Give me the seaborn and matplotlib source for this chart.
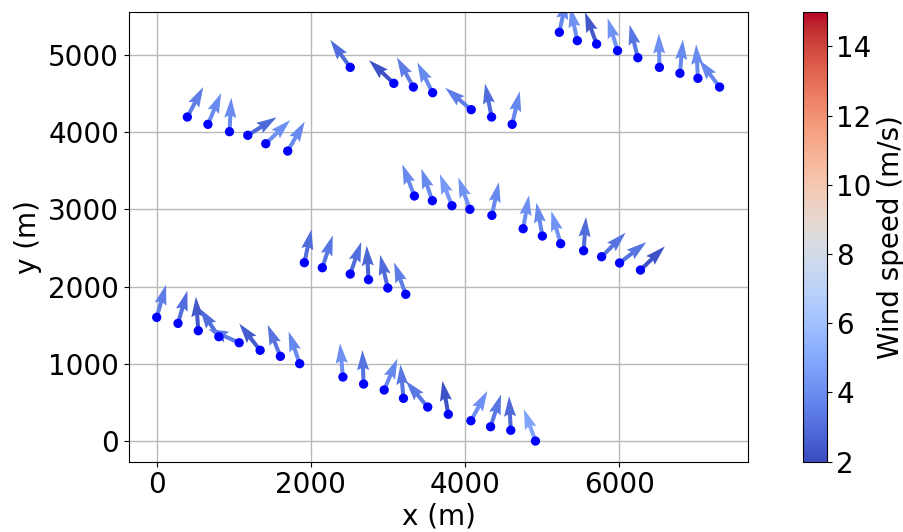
import numpy as np
import pandas as pd
import matplotlib
matplotlib.use("Agg")
import matplotlib.pyplot as plt
import seaborn as sns

# Turbine positions (m)
turbine_x = [397, 664, 944, 1181, 1414, 1699,
             2510, 3075, 3329, 3579, 4079, 4343, 4610,
             5222, 5455, 5705, 5977, 6240, 6520, 6786, 7019, 7300,
             1915, 2148, 2510, 2747, 2997, 3230,
             3342, 3575, 3829, 4062, 4347, 4752, 5002, 5239, 5537, 5770, 6003, 6274,
             0, 276, 539, 806, 1070, 1341, 1604, 1854,
             2415, 2683, 2950, 3200, 3515, 3782, 4075, 4330, 4592, 4912]
turbine_y = [4197, 4102, 4007, 3960, 3851, 3756,
             4840, 4633, 4585, 4512, 4292, 4197, 4102,
             5294, 5186, 5142, 5056, 4965, 4840, 4763, 4698, 4585,
             2310, 2245, 2163, 2090, 1982, 1900,
             3174, 3113, 3048, 3001, 2923, 2750, 2655, 2556, 2465, 2387, 2306, 2215,
             1602, 1524, 1429, 1351, 1273, 1175, 1097, 1002,
             829, 738, 661, 553, 440, 346, 263, 185, 139, 0]
# Wind direction the arrow points to (degrees, counter-clockwise from +x)
wind_dir_deg = [62, 67, 87, 32, 44, 60,
                126, 137, 119, 117, 140, 101, 77,
                78, 102, 110, 107, 104, 91, 85, 93, 127,
                78, 72, 71, 93, 103, 110,
                111, 109, 111, 110, 78, 80, 100, 106, 86, 45, 38, 44,
                74, 74, 94, 124, 156, 128, 112, 109,
                95, 92, 67, 95, 130, 100, 61, 72, 93, 110]
# Wind speed at each turbine (m/s)
wind_speed = [3.5, 3.9, 3.9, 2.9, 4.1, 3.9,
              3.0, 2.2, 3.5, 3.9, 3.5, 3.0, 3.8,
              3.8, 4.1, 2.4, 4.2, 3.3, 4.1, 3.9, 3.9, 3.8,
              3.0, 3.3, 3.0, 2.8, 2.9, 3.5,
              3.9, 3.9, 4.4, 4.2, 3.9, 4.1, 3.9, 4.2, 3.0, 3.2, 3.2, 2.2,
              3.5, 3.0, 2.4, 3.0, 3.5, 2.5, 3.2, 3.8,
              4.1, 3.2, 3.8, 3.3, 3.3, 2.2, 4.1, 3.3, 2.9, 4.8]

df = pd.DataFrame({"x": turbine_x, "y": turbine_y,
                   "dir": wind_dir_deg, "ws": wind_speed})
arrow_len = 440.0
rad = np.deg2rad(df["dir"].to_numpy())
u = arrow_len * np.cos(rad)
v = arrow_len * np.sin(rad)

fig = plt.figure(figsize=(9.04, 5.32), dpi=100)
ax = fig.add_axes([0.1424, 0.1321, 0.6854, 0.8459])
cax = fig.add_axes([0.8886, 0.1321, 0.0259, 0.8459])

ax.grid(True, color="#b8b8b8", linewidth=1.0, zorder=0)
ax.set_axisbelow(True)

q = ax.quiver(df["x"], df["y"], u, v, df["ws"], cmap="coolwarm",
              clim=(2, 15), angles="xy", scale_units="xy", scale=1,
              width=0.0065, headwidth=3, headlength=5, headaxislength=4.5,
              zorder=2)
sns.scatterplot(data=df, x="x", y="y", color="blue", s=45,
                edgecolor="none", ax=ax, zorder=3, legend=False)

ax.set_xlim(-363, 7673)
ax.set_ylim(-268, 5561)
ax.set_xticks([0, 2000, 4000, 6000])
ax.set_yticks([0, 1000, 2000, 3000, 4000, 5000])
ax.tick_params(labelsize=20)
ax.set_xlabel("x (m)", fontsize=20, labelpad=2)
ax.set_ylabel("y (m)", fontsize=20)

cb = fig.colorbar(q, cax=cax)
cb.set_ticks([2, 4, 6, 8, 10, 12, 14])
cb.ax.tick_params(labelsize=20)
cb.set_label("Wind speed (m/s)", fontsize=20)

fig.savefig("out.png", dpi=100)
